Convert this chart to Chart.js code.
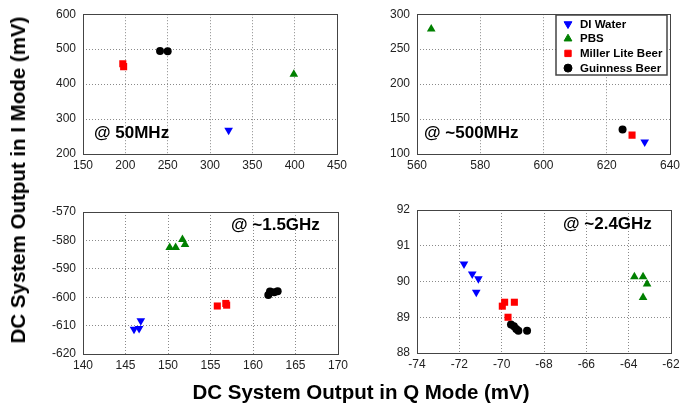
<!DOCTYPE html>
<html lang="en">
<head>
	<meta charset="UTF-8">
	<title>DC System Output</title>
	<script src="https://cdn.jsdelivr.net/npm/chart.js@4.4.1/dist/chart.umd.min.js"></script>
	<style>
		body { margin: 0; background: #fff; }
		#wrap { position: relative; width: 685px; height: 406px; overflow: hidden; font-family: "Liberation Sans", Arial, sans-serif; }
		#wrap canvas { position: absolute; left: 0; top: 0; }
		.title { position: absolute; font-weight: bold; font-size: 20.5px; color: #000; white-space: nowrap; }
		#ytitle { left: 18px; top: 180px; transform: translate(-50%, -50%) rotate(-90deg); }
		#xtitle { left: 361px; top: 392px; transform: translate(-50%, -50%); }
	</style>
</head>
<body>
	<div id="wrap">
		<canvas id="c50" width="685" height="406"></canvas>
		<canvas id="c500" width="685" height="406"></canvas>
		<canvas id="c15" width="685" height="406"></canvas>
		<canvas id="c24" width="685" height="406"></canvas>
		<div class="title" id="ytitle">DC System Output in I Mode (mV)</div>
		<div class="title" id="xtitle">DC System Output in Q Mode (mV)</div>
	</div>

	<script>
		const seriesNames = ['DI Water', 'PBS', 'Miller Lite Beer', 'Guinness Beer'];

		// [Q, I] pairs, mV
		const water50 = [[322, 268]];
		const pbs50 = [[399, 428]];
		const miller50 = [[197, 458], [198, 450]];
		const guinness50 = [[241, 495], [250, 494]];

		const water500 = [[632, 117]];
		const pbs500 = [[564.5, 279]];
		const miller500 = [[628, 127]];
		const guinness500 = [[625, 135]];

		const water15 = [[146.0, -611.3], [146.6, -611.0], [146.8, -608.3]];
		const pbs15 = [[150.2, -582.5], [150.9, -582.5], [151.7, -579.7], [152.0, -581.4]];
		const miller15 = [[155.8, -603.1], [156.8, -602.2], [156.9, -602.8]];
		const guinness15 = [[161.8, -599.2], [162.0, -598.0], [162.5, -598.3], [162.9, -597.9]];

		const water24 = [[-71.78, 90.49], [-71.39, 90.21], [-71.10, 90.08], [-71.2, 89.7]];
		const pbs24 = [[-63.73, 90.13], [-63.32, 90.13], [-63.13, 89.93], [-63.32, 89.55]];
		const miller24 = [[-69.97, 89.31], [-69.86, 89.42], [-69.40, 89.42], [-69.70, 89.0]];
		const guinness24 = [[-69.56, 88.80], [-69.42, 88.75], [-69.31, 88.67], [-69.21, 88.62], [-68.80, 88.62]];

		// axis ranges: [min, max, step]
		const xRange50 = [150, 450, 50], yRange50 = [200, 600, 100];
		const xRange500 = [560, 640, 20], yRange500 = [100, 300, 50];
		const xRange15 = [140, 170, 5], yRange15 = [-620, -570, 10];
		const xRange24 = [-74, -62, 2], yRange24 = [88, 92, 1];

		const labels = ['@ 50MHz', '@ ~500MHz', '@ ~1.5GHz', '@ ~2.4GHz'];

		const colors = ['#0000ff', '#008000', '#ff0000', '#000000'];
		const shapes = ['triangle', 'triangle', 'rect', 'circle'];
		const rotations = [180, 0, 0, 0];
		const radii = [5, 5, 5, 4];

		const FONT = '"Liberation Sans", Arial, sans-serif';
		const Y_W = 42, X_H = 20;

		function toPts(arr) {
			return arr.map(p => ({ x: p[0], y: p[1] }));
		}

		// box round the plot, the "@ freq" note and the legend
		const frame = {
			id: 'frame',
			afterDraw(chart, args, opts) {
				const a = chart.chartArea, ctx = chart.ctx;
				ctx.save();
				ctx.strokeStyle = '#444';
				ctx.lineWidth = 1;
				ctx.strokeRect(Math.round(a.left) + 0.5, Math.round(a.top) + 0.5, Math.round(a.right - a.left), Math.round(a.bottom - a.top));
				ctx.fillStyle = '#000';
				ctx.font = 'bold 17px ' + FONT;
				ctx.textBaseline = 'middle';
				ctx.fillText(opts.text, opts.tx, opts.ty);
				if (opts.legend) {
					const lx = 556, ly = 15, lw = 111, lh = 60;
					ctx.fillStyle = '#fff';
					ctx.fillRect(lx, ly, lw, lh);
					ctx.strokeStyle = '#444';
					ctx.lineWidth = 1.5;
					ctx.strokeRect(lx, ly, lw, lh);
					ctx.font = 'bold 11.5px ' + FONT;
					seriesNames.forEach((name, i) => {
						const y = 24 + i * 14.7;
						ctx.fillStyle = colors[i];
						ctx.strokeStyle = colors[i];
						ctx.lineWidth = 1;
						Chart.helpers.drawPoint(ctx, { pointStyle: shapes[i], rotation: rotations[i], radius: i === 3 ? 4 : 4.5, borderWidth: 1 }, 568, y);
						ctx.fillStyle = '#000';
						ctx.fillText(name, 580, y + 0.5);
					});
				}
				ctx.restore();
			}
		};

		function axis(r, pos) {
			return {
				type: 'linear',
				position: pos,
				min: r[0],
				max: r[1],
				ticks: { stepSize: r[2], color: '#222', font: { family: FONT, size: 12 }, padding: pos === 'left' ? 7 : 4 },
				grid: { color: '#8a8a8a', drawTicks: false, lineWidth: 1 },
				border: { display: false, dash: [1, 2] },
				afterFit(scale) {
					if (pos === 'left') scale.width = Y_W; else scale.height = X_H;
				}
			};
		}

		function panel(id, sets, xr, yr, area, note) {
			const datasets = sets.map((s, i) => ({
				label: seriesNames[i],
				data: toPts(s),
				pointStyle: shapes[i],
				rotation: rotations[i],
				radius: radii[i],
				backgroundColor: colors[i],
				borderColor: colors[i],
				borderWidth: 0
			}));
			return new Chart(document.getElementById(id), {
				type: 'scatter',
				data: { datasets },
				options: {
					responsive: false,
					animation: false,
					events: [],
					layout: { padding: { left: area[0] - Y_W, top: area[2], right: 685 - area[1], bottom: 406 - area[3] - X_H } },
					scales: {
						x: axis(xr, 'bottom'),
						y: axis(yr, 'left')
					},
					plugins: {
						legend: { display: false },
						tooltip: { enabled: false },
						frame: note
					}
				},
				plugins: [frame]
			});
		}

		panel('c50', [water50, pbs50, miller50, guinness50], xRange50, yRange50, [83, 337, 12, 154],
			{ text: labels[0], tx: 94, ty: 133 });
		panel('c500', [water500, pbs500, miller500, guinness500], xRange500, yRange500, [417, 670, 12, 154],
			{ text: labels[1], tx: 424, ty: 133, legend: true });
		panel('c15', [water15, pbs15, miller15, guinness15], xRange15, yRange15, [83, 338, 212, 354],
			{ text: labels[2], tx: 231, ty: 225 });
		panel('c24', [water24, pbs24, miller24, guinness24], xRange24, yRange24, [417, 671, 210, 353],
			{ text: labels[3], tx: 563, ty: 224 });
	</script>
</body>
</html>
